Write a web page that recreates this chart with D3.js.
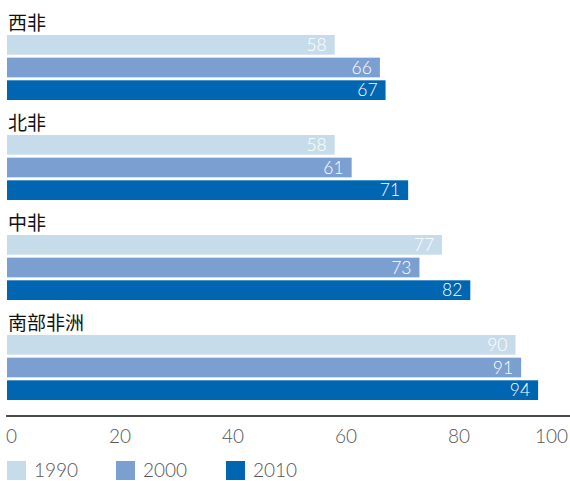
<!DOCTYPE html>
<html>
<head>
<meta charset="utf-8">
<script src="https://cdn.jsdelivr.net/npm/d3@7"></script>
<style>
  html, body { margin: 0; padding: 0; background: #fff; }
  svg { display: block; }
</style>
</head>
<body>
<svg id="chart" width="570" height="481"></svg>
<script>
// Regions and years
const regions = ["西非", "北非", "中非", "南部非洲"];
const years = ["1990", "2000", "2010"];

// Values per year, in region order
const values1990 = [58, 58, 77, 90];
const values2000 = [66, 61, 73, 91];
const values2010 = [67, 71, 82, 94];

const xTicks = [0, 20, 40, 60, 80, 100];
const colors = ["#c7dceb", "#7b9fd1", "#0066b2"];

const series = [values1990, values2000, values2010];

const svg = d3.select("#chart");

const x = d3.scaleLinear().domain([0, 100]).range([7, 572]);

// Each region is a block: title, then three bars
const groupY = d3.scaleBand().domain(regions).range([0, 400]).paddingInner(0).paddingOuter(0);
const barY = d3.scaleBand().domain(years).range([35, 100]).paddingInner(0.13).paddingOuter(0);

const groups = svg.selectAll("g.region")
  .data(regions)
  .join("g")
  .attr("class", "region")
  .attr("transform", d => `translate(0,${groupY(d)})`);

groups.append("text")
  .attr("x", 8)
  .attr("y", 29.5)
  .attr("font-family", "'Noto Sans CJK SC', sans-serif")
  .attr("font-weight", 400)
  .attr("font-size", 19)
  .attr("fill", "#111")
  .text(d => d);

groups.each(function(region, ri) {
  const g = d3.select(this);
  years.forEach((yr, yi) => {
    const v = series[yi][ri];
    g.append("rect")
      .attr("x", x(0))
      .attr("y", barY(yr))
      .attr("width", x(v) - x(0))
      .attr("height", barY.bandwidth())
      .attr("fill", colors[yi]);
    g.append("text")
      .attr("x", x(v) - 8)
      .attr("y", barY(yr) + barY.bandwidth() / 2)
      .attr("dy", "0.36em")
      .attr("text-anchor", "end")
      .attr("font-family", "Lato, sans-serif")
      .attr("font-weight", 300)
      .attr("font-size", 17.5)
      .attr("fill", "#fff")
      .text(v);
  });
});

// Bottom axis: plain line, no tick marks
const axisY = 416;
svg.append("line")
  .attr("x1", 6).attr("x2", 570)
  .attr("y1", axisY).attr("y2", axisY)
  .attr("stroke", "#111")
  .attr("stroke-width", 1.3);

svg.selectAll("text.tick")
  .data(xTicks)
  .join("text")
  .attr("class", "tick")
  .attr("x", d => d === 0 ? 6 : d === 100 ? 568 : x(d))
  .attr("y", 442.5)
  .attr("text-anchor", d => d === 0 ? "start" : d === 100 ? "end" : "middle")
  .attr("font-family", "Lato, sans-serif")
  .attr("font-weight", 300)
  .attr("font-size", 19)
  .attr("fill", "#555")
  .text(d => d);

// Legend
const legendX = [7, 116, 226];
const legend = svg.selectAll("g.legend")
  .data(years)
  .join("g")
  .attr("class", "legend")
  .attr("transform", (d, i) => `translate(${legendX[i]},461)`);

legend.append("rect")
  .attr("width", 19).attr("height", 19)
  .attr("fill", (d, i) => colors[i]);

legend.append("text")
  .attr("x", 27)
  .attr("y", 15.5)
  .attr("font-family", "Lato, sans-serif")
  .attr("font-weight", 300)
  .attr("font-size", 19)
  .attr("fill", "#555")
  .text(d => d);
</script>
</body>
</html>
